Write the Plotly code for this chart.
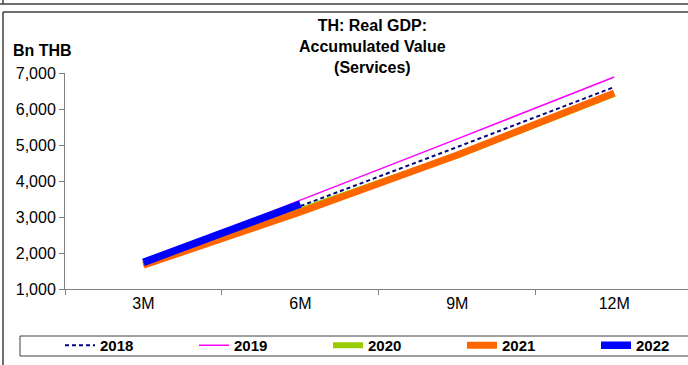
import plotly.graph_objects as go

categories = ["3M", "6M", "9M", "12M"]
y2018 = [1660, 3300, 4944, 6610]
y2019 = [1720, 3470, 5170, 6890]
y2020 = [1670, 3170, 4710, 6420]
y2021 = [1660, 3140, 4720, 6444]
y2022 = [1740, 3360]
yticks = [1000, 2000, 3000, 4000, 5000, 6000, 7000]

FONT = "Liberation Sans, Arial, sans-serif"

W, H = 688, 365
L, R, T, B = 65, 0, 73, 76
pw, ph = W - L - R, H - T - B


def xp(px):
    return (px - L) / pw


def yp(py):
    return (H - B - py) / ph


fig = go.Figure()
fig.add_trace(go.Scatter(x=categories, y=y2018, name="2018", mode="lines",
                         line=dict(color="#000080", width=2, dash="4px,3px")))
fig.add_trace(go.Scatter(x=categories, y=y2019, name="2019", mode="lines",
                         line=dict(color="#FF00FF", width=1.5)))
fig.add_trace(go.Scatter(x=categories, y=y2020, name="2020", mode="lines",
                         line=dict(color="#99CC00", width=6)))
fig.add_trace(go.Scatter(x=categories, y=y2021, name="2021", mode="lines",
                         line=dict(color="#FF6600", width=7)))
fig.add_trace(go.Scatter(x=categories[:len(y2022)], y=y2022, name="2022", mode="lines",
                         line=dict(color="#0000FF", width=7.5)))

fig.update_layout(
    width=W, height=H,
    margin=dict(l=L, r=R, t=T, b=B, autoexpand=False),
    paper_bgcolor="white", plot_bgcolor="white",
    font=dict(family=FONT, size=16, color="black"),
    showlegend=True,
    legend=dict(orientation="h", x=xp(60), y=yp(329), xanchor="left", yanchor="top",
                borderwidth=0, bgcolor="rgba(0,0,0,0)",
                font=dict(family=FONT, size=15, color="black", weight="bold"),
                entrywidth=89, entrywidthmode="pixels", traceorder="normal",
                itemsizing="trace", tracegroupgap=0),
    xaxis=dict(type="category", range=[-0.5, 3.47], showgrid=False, zeroline=False,
               showline=True, linecolor="#808080", linewidth=1,
               ticks="outside", tickson="boundaries", ticklen=5, tickcolor="#808080",
               tickfont=dict(family=FONT, size=16)),
    yaxis=dict(range=[1000, 7000], tickvals=yticks, tickformat=",d", showgrid=False,
               zeroline=False, showline=True, linecolor="#808080", linewidth=1,
               ticks="outside", ticklen=5, tickcolor="#808080",
               tickfont=dict(family=FONT, size=16)),
)

fig.add_annotation(text="<b>TH: Real GDP:<br>Accumulated Value<br>(Services)</b>",
                   xref="paper", yref="paper", x=xp(372), y=yp(15),
                   xanchor="center", yanchor="top", showarrow=False,
                   font=dict(family=FONT, size=16, color="black"))
fig.add_annotation(text="<b>Bn THB</b>", xref="paper", yref="paper",
                   x=xp(11), y=yp(50), xanchor="left", yanchor="middle", showarrow=False,
                   font=dict(family=FONT, size=16, color="black"))

border = dict(color="#404040", width=1.5)
frame = dict(color="#404040", width=1)


def hline(x0, x1, y, ln):
    fig.add_shape(type="line", xref="paper", yref="paper", x0=xp(x0), x1=xp(x1),
                  y0=yp(y), y1=yp(y), line=ln)


def vline(x, y0, y1, ln):
    fig.add_shape(type="line", xref="paper", yref="paper", x0=xp(x), x1=xp(x),
                  y0=yp(y0), y1=yp(y1), line=ln)


hline(3, 700, 12, border)
vline(3, 12, 370, border)
hline(0, 700, 4, border)
vline(3, -5, 4, border)
# legend frame
hline(20, 700, 336, frame)
hline(20, 700, 356, frame)
vline(20, 336, 356, frame)

fig.write_html("out.html", config={"displayModeBar": False},
               post_script="document.body.style.margin='0';document.body.style.overflow='hidden';")
